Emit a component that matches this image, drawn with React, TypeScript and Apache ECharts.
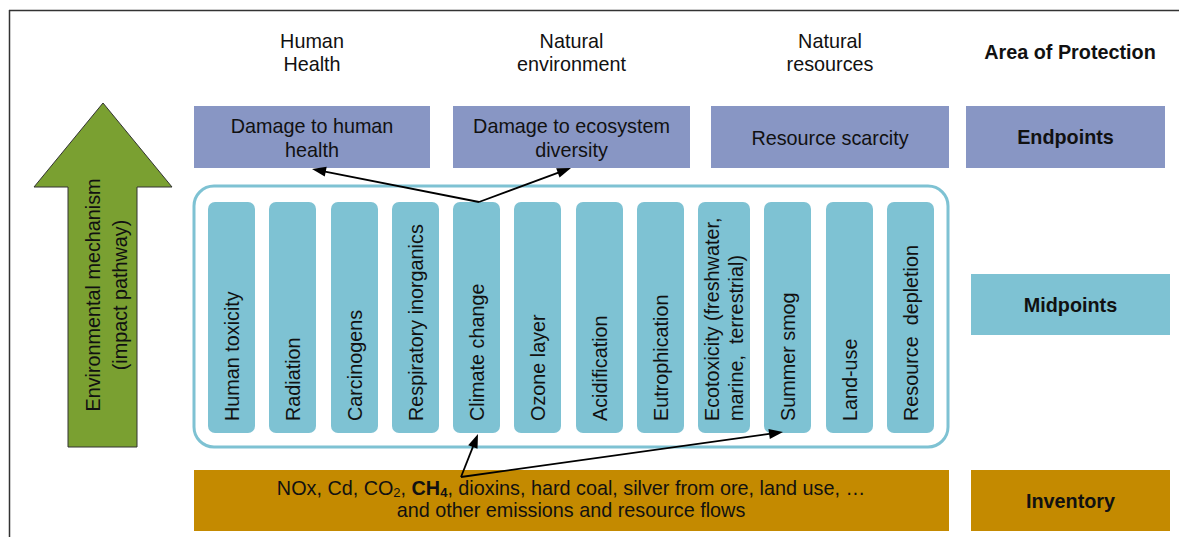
import React, { useEffect, useRef } from "react";
import * as echarts from "echarts";

const AREAS = ["Human\nHealth", "Natural\nenvironment", "Natural\nresources"];
const ENDPOINTS = ["Damage to human\nhealth", "Damage to ecosystem\ndiversity", "Resource scarcity"];
const MIDPOINTS = [
  "Human toxicity",
  "Radiation",
  "Carcinogens",
  "Respiratory inorganics",
  "Climate change",
  "Ozone layer",
  "Acidification",
  "Eutrophication",
  "Ecotoxicity (freshwater,\nmarine,  terrestrial)",
  "Summer smog",
  "Land-use",
  "Resource  depletion",
];
const LEVELS = ["Area of Protection", "Endpoints", "Midpoints", "Inventory"];
const MECHANISM = "Environmental mechanism\n(impact pathway)";
const INVENTORY_RICH =
  "{n|NOx, Cd, CO}{s|2}{n|, }{b|CH}{bs|4}{n|, dioxins, hard coal, silver from ore, land use, \u2026}\n{n|and other emissions and resource flows}";

const FONT = '"Liberation Sans", Arial, sans-serif';
const FS = 19.8;
const C_END = "#8896C4";
const C_MID = "#7EC2D3";
const C_INV = "#C48A00";
const C_GREEN = "#7AA031";
const C_TEXT = "#111";

function arrow(x1: number, y1: number, x2: number, y2: number) {
  const len = Math.hypot(x2 - x1, y2 - y1);
  const dx = (x2 - x1) / len;
  const dy = (y2 - y1) / len;
  const L = 14;
  const W = 5;
  const bx = x2 - dx * L;
  const by = y2 - dy * L;
  const nx = -dy;
  const ny = dx;
  return [
    {
      type: "line",
      shape: { x1, y1, x2: bx + dx * 2, y2: by + dy * 2 },
      style: { stroke: "#000", lineWidth: 1.8 },
      z: 20,
    },
    {
      type: "polygon",
      shape: { points: [[x2, y2], [bx + nx * W, by + ny * W], [bx - nx * W, by - ny * W]] },
      style: { fill: "#000" },
      z: 20,
    },
  ];
}

export default function App() {
  const ref = useRef<HTMLDivElement>(null);
  useEffect(() => {
    if (!ref.current) return;
    const chart = echarts.init(ref.current, null, { renderer: "svg" });
    const els: any[] = [];

    // frame
    els.push({ type: "line", shape: { x1: 9, y1: 10.5, x2: 1179, y2: 10.5 }, style: { stroke: "#333", lineWidth: 1.5 } });
    els.push({ type: "line", shape: { x1: 9.5, y1: 10, x2: 9.5, y2: 537 }, style: { stroke: "#333", lineWidth: 1.5 } });

    // green arrow
    els.push({
      type: "polygon",
      shape: {
        points: [[103, 103], [172, 187], [137, 187], [137, 447], [68, 447], [68, 187], [34, 187]],
      },
      style: { fill: C_GREEN, stroke: "#333", lineWidth: 1 },
    });
    els.push({
      type: "text",
      x: 106,
      y: 295,
      rotation: Math.PI / 2,
      style: {
        text: MECHANISM,
        fontSize: FS,
        fontFamily: FONT,
        fill: C_TEXT,
        align: "center",
        verticalAlign: "middle",
        lineHeight: 27,
      },
    });

    // endpoint columns
    const endBoxes = [
      [194, 430],
      [453, 690],
      [711, 949],
    ];
    endBoxes.forEach(([x0, x1], i) => {
      const cx = (x0 + x1) / 2;
      els.push({
        type: "text",
        x: cx,
        y: 52,
        style: { text: AREAS[i], fontSize: FS, fontFamily: FONT, fill: C_TEXT, align: "center", verticalAlign: "middle", lineHeight: 23 },
      });
      els.push({ type: "rect", shape: { x: x0, y: 106, width: x1 - x0, height: 62 }, style: { fill: C_END } });
      els.push({
        type: "text",
        x: cx,
        y: 138,
        style: { text: ENDPOINTS[i], fontSize: FS, fontFamily: FONT, fill: C_TEXT, align: "center", verticalAlign: "middle", lineHeight: 24 },
      });
    });

    // right-hand levels
    const levelBoxes: any[] = [
      null,
      { x: 966, y: 106, w: 199, h: 62, c: C_END },
      { x: 971, y: 274, w: 199, h: 61, c: C_MID },
      { x: 971, y: 470, w: 199, h: 61, c: C_INV },
    ];
    LEVELS.forEach((t, i) => {
      const b = levelBoxes[i];
      let cx = 1070;
      let cy = 52;
      if (b) {
        els.push({ type: "rect", shape: { x: b.x, y: b.y, width: b.w, height: b.h }, style: { fill: b.c } });
        cx = b.x + b.w / 2;
        cy = b.y + b.h / 2;
      }
      els.push({
        type: "text",
        x: cx,
        y: cy,
        style: { text: t, fontSize: FS, fontWeight: "bold", fontFamily: FONT, fill: C_TEXT, align: "center", verticalAlign: "middle" },
      });
    });

    // midpoint container
    els.push({
      type: "rect",
      shape: { x: 194, y: 186, width: 754, height: 261, r: 20 },
      style: { fill: "#fff", stroke: C_MID, lineWidth: 3 },
    });
    const colX = [208, 269, 331, 392, 453, 514, 576, 637, 698, 764, 826, 887];
    MIDPOINTS.forEach((t, i) => {
      const w = i === 8 ? 52 : 47;
      const x0 = colX[i];
      els.push({ type: "rect", shape: { x: x0, y: 202, width: w, height: 231, r: 7 }, style: { fill: C_MID } });
      els.push({
        type: "text",
        x: x0 + w / 2,
        y: 421,
        rotation: Math.PI / 2,
        style: { text: t, fontSize: FS, fontFamily: FONT, fill: C_TEXT, align: "left", verticalAlign: "middle", lineHeight: 24 },
      });
    });

    // inventory
    els.push({ type: "rect", shape: { x: 194, y: 470, width: 755, height: 61 }, style: { fill: C_INV } });
    els.push({
      type: "text",
      x: 571,
      y: 499,
      style: {
        text: INVENTORY_RICH,
        align: "center",
        verticalAlign: "middle",
        fill: C_TEXT,
        rich: {
          n: { fontSize: FS, fontFamily: FONT, lineHeight: 22, fill: C_TEXT },
          s: { fontSize: 13, fontFamily: FONT, lineHeight: 13, verticalAlign: "bottom", fill: C_TEXT },
          b: { fontSize: FS, fontFamily: FONT, fontWeight: "bold", lineHeight: 22, fill: C_TEXT },
          bs: { fontSize: 13, fontFamily: FONT, fontWeight: "bold", lineHeight: 13, verticalAlign: "bottom", fill: C_TEXT },
        },
      },
    });

    // arrows
    els.push(...arrow(479, 202, 312, 169));
    els.push(...arrow(479, 202, 571, 168));
    els.push(...arrow(461, 477, 478, 434));
    els.push(...arrow(461, 477, 783, 432));

    chart.setOption({ animation: false, graphic: { elements: els } });
    return () => chart.dispose();
  }, []);

  return (
    <div
      ref={ref}
      style={{ position: "absolute", left: 0, top: 0, width: 1179, height: 537, background: "#fff" }}
    />
  );
}
